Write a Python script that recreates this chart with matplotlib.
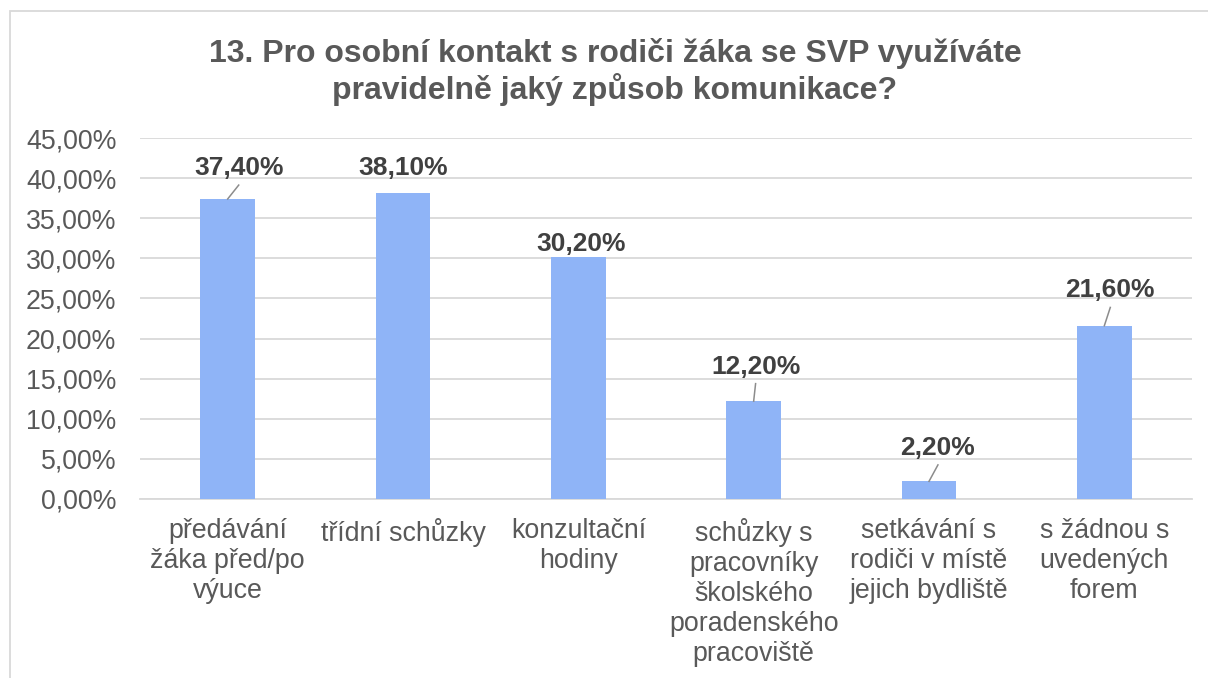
import matplotlib.pyplot as plt
from matplotlib.patches import Rectangle
from matplotlib.ticker import FuncFormatter

plt.rcParams['font.family'] = ['Liberation Sans', 'DejaVu Sans']

# data
categories = ['předávání\nžáka před/po\nvýuce', 'třídní schůzky', 'konzultační\nhodiny',
              'schůzky s\npracovníky\nškolského\nporadenského\npracoviště',
              'setkávání s\nrodiči v místě\njejich bydliště', 's žádnou s\nuvedených\nforem']
values = [37.4, 38.1, 30.2, 12.2, 2.2, 21.6]

# where Excel placed each data label (offset from bar top) and if it has a leader line
label_dx = [0.063, 0.0, 0.017, 0.011, 0.051, 0.034]
label_dy = [2.98, 2.28, 0.68, 3.43, 3.3, 3.53]
leader = [True, False, False, True, True, True]

grey = '#595959'
fig = plt.figure(figsize=(12.08, 6.78), dpi=100)
fig.patches.append(Rectangle((9.5/1208, -0.01), 1.0, 1 - 11/678 + 0.01, transform=fig.transFigure,
                             fill=False, edgecolor='#d9d9d9', linewidth=1.3))
ax = fig.add_axes([140/1208, 1 - 499/678, 1052/1208, 361/678])

x = range(len(categories))
ax.bar(x, values, width=0.31, color='#8fb4f7', zorder=3)
ax.set_xlim(-0.5, len(categories) - 0.5)
ax.set_ylim(0, 45)
ax.set_yticks(range(0, 46, 5))
ax.yaxis.set_major_formatter(FuncFormatter(lambda v, p: f'{v:.2f}%'.replace('.', ',')))
ax.grid(axis='y', color='#d9d9d9', linewidth=1.3, zorder=0)
for s in ['top', 'right', 'left']:
    ax.spines[s].set_visible(False)
ax.spines['bottom'].set_color('#d9d9d9')
ax.spines['bottom'].set_linewidth(1.3)
ax.tick_params(axis='both', length=0, colors=grey, labelsize=19.3)
ax.tick_params(axis='y', pad=17)
ax.tick_params(axis='x', pad=14)
ax.set_xticks(list(x))
ax.set_xticklabels(categories, linespacing=1.2)

for i, v in enumerate(values):
    lx = i + label_dx[i]
    ly = v + label_dy[i]
    ax.text(lx, ly, f'{v:.2f}%'.replace('.', ','), ha='center', va='baseline',
            fontsize=19, fontweight='bold', color='#404040', zorder=4)
    if leader[i]:
        ax.plot([i, lx], [v, ly - 1.25], color='#8c8c8c', linewidth=1.1, zorder=4)

fig.text(615/1208, 1 - 72/678, '13. Pro osobní kontakt s rodiči žáka se SVP využíváte\npravidelně jaký způsob komunikace?',
         ha='center', va='center', fontsize=23, fontweight='bold', color=grey, linespacing=1.13)

fig.savefig('out.png', dpi=100, facecolor='white')
